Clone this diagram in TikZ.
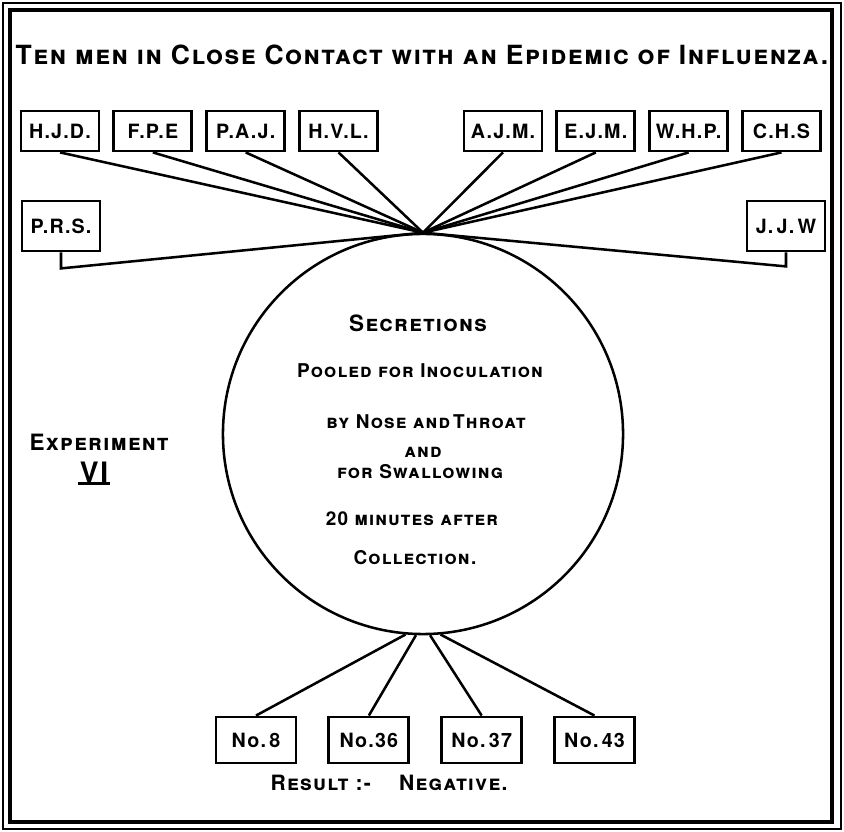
\documentclass[tikz,border=0pt]{standalone}
\usepackage{fontspec}
\setmainfont{TeX Gyre Heros}[LetterSpace=6]
\usetikzlibrary{positioning}

\begin{document}
\begin{tikzpicture}[
    x=0.025cm, y=-0.025cm,
    node distance=0.3cm,
    man/.style={draw, line width=2pt, minimum width=1.95cm, minimum height=1cm, inner sep=1pt, font=\bfseries\fontsize{14}{16}\selectfont},
    vol/.style={draw, line width=2pt, minimum width=2cm, minimum height=1.15cm, inner sep=1pt, font=\bfseries\fontsize{14}{16}\selectfont},
    link/.style={line width=1.8pt},
    hand/.style={font=\bfseries\scshape\fontsize{13.5}{15}\selectfont, inner sep=1pt},
    bighand/.style={font=\bfseries\scshape\fontsize{16}{18}\selectfont, inner sep=1pt},
]
\useasboundingbox (0,0) rectangle (844,832);
% double frame
\draw[line width=1pt] (3,3) rectangle (841,829);
\draw[line width=2.6pt] (10,10) rectangle (832,822);

\node[font=\bfseries\scshape\fontsize{18.8}{22}\selectfont] (title) at (422,55)
    {Ten men in Close Contact with an Epidemic of Influenza.};

% pool of secretions
\node[draw, circle, line width=1.8pt, minimum size=10cm, inner sep=0pt] (pool) at (423,434) {};
\coordinate (apex) at (pool.north);

% ten men, top row
\node[man] (hjd) at (60,131) {H.J.D.};
\node[man, right=of hjd] (fpe) {F.P.E};
\node[man, right=of fpe] (paj) {P.A.J.};
\node[man, right=of paj] (hvl) {H.V.L.};
\node[man] (ajm) at (503,131) {A.J.M.};
\node[man, right=of ajm] (ejm) {E.J.M.};
\node[man, right=of ejm] (whp) {W.H.P.};
\node[man, right=of whp] (chs) {C.H.S};
\node[man, minimum height=1.25cm] (prs) at (61,226) {P.R.S.};
\node[man, minimum height=1.25cm] (jjw) at (786,226) {J.\,J.\,W};

\foreach \m in {hjd,fpe,paj,hvl,ajm,ejm,whp,chs}
    \draw[link] (\m.south) -- (apex);
\draw[link] (prs.south) -- ++(0,16) -- (apex);
\draw[link] (jjw.south) -- ++(0,14) -- (apex);

% contents of the circle
\node[bighand] (sec) at (418,323) {Secretions};
\node[hand] (pool1) at (420,371) {Pooled for Inoculation};
\node[hand] (pool2) at (426,422) {by Nose and\,Throat};
\node[hand] (pool3) at (423,452) {and};
\node[hand] (pool4) at (420,472) {for Swallowing};
\node[hand] (pool5) at (412,519) {20 minutes after};
\node[hand] (pool6) at (415,558) {Collection.};

\node[bighand] (expt) at (99,442) {Experiment};
\node[font=\bfseries\fontsize{20}{22}\selectfont, inner sep=1pt] (vi) at (94,472) {VI};
\draw[line width=2.2pt] (vi.south west) -- (vi.south east);

% volunteers inoculated
\node[vol] (n8) at (256,740) {No.\,8};
\node[vol, right=0.75cm of n8] (n36) {No.36};
\node[vol, right=0.75cm of n36] (n37) {No.\,37};
\node[vol, right=0.75cm of n37] (n43) {No.\,43};
\draw[link] (pool.265) -- (n8.north);
\draw[link] (pool.268) -- (n36.north);
\draw[link] (pool.272) -- (n37.north);
\draw[link] (pool.275) -- (n43.north);

\node[bighand, font=\bfseries\scshape\fontsize{15}{17}\selectfont] (result) at (389,783) {Result :- \quad Negative.};
\end{tikzpicture}
\end{document}
